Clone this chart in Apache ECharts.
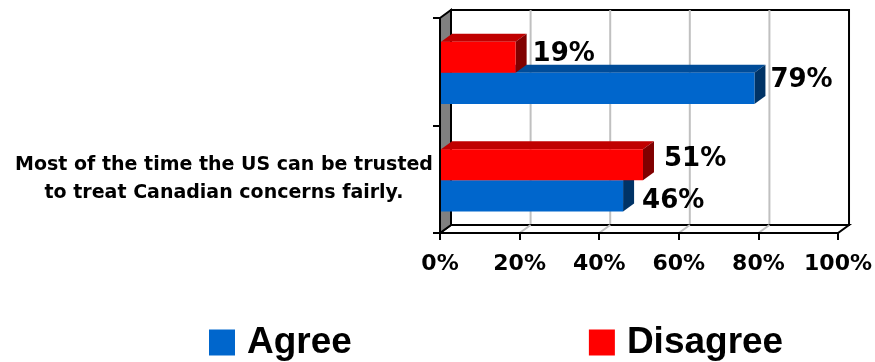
<!DOCTYPE html>
<html>
<head>
<meta charset="utf-8">
<script src="https://cdn.jsdelivr.net/npm/echarts/dist/echarts.min.js"></script>
<style>
  html, body { margin: 0; padding: 0; background: #ffffff; }
  #chart { width: 875px; height: 362px; }
</style>
</head>
<body>
<div id="chart"></div>
<script>
// Survey statement (bottom row) and an unlabelled comparison row (top)
const categories = [
  'Most of the time the US can be trusted\nto treat Canadian concerns fairly.',
  ''
];
const seriesNames = ['Agree', 'Disagree'];
const agreeValues = [46, 79];
const disagreeValues = [51, 19];
const tickValues = [0, 20, 40, 60, 80, 100];

// Depth of the pseudo-3D box and bars (pixels)
const DX = 11, DY = -8;

const palette = {
  Agree:    { front: '#0066CC', top: '#004C99', side: '#003366' },
  Disagree: { front: '#FF0000', top: '#C00000', side: '#800000' }
};

// Per-label nudges [dx, dy] so the value labels sit where the bars leave room
const labelNudge = {
  Agree:    [[8, 5], [5, -8]],
  Disagree: [[10, -5], [6, -3]]
};

function frameRenderer(params, api) {
  const cs = params.coordSys;
  const L = cs.x, T = cs.y, R = cs.x + cs.width, B = cs.y + cs.height;
  const inner = tickValues.slice(1, -1);
  const children = [];
  // back wall
  children.push({
    type: 'rect',
    shape: { x: L + DX, y: T + DY, width: R - L, height: B - T },
    style: { fill: '#ffffff', stroke: '#000000', lineWidth: 2 }
  });
  // gridlines on the back wall, placed by the value axis
  inner.forEach(function (v) {
    const x = api.coord([v, 0])[0];
    children.push({
      type: 'line',
      shape: { x1: x + DX, y1: T + DY, x2: x + DX, y2: B + DY },
      style: { stroke: '#C0C0C0', lineWidth: 2 }
    });
  });
  // floor with its receding gridlines
  children.push({
    type: 'polygon',
    shape: { points: [[L, B], [R, B], [R + DX, B + DY], [L + DX, B + DY]] },
    style: { fill: '#ffffff', stroke: '#000000', lineWidth: 2 }
  });
  inner.forEach(function (v) {
    const x = api.coord([v, 0])[0];
    children.push({
      type: 'line',
      shape: { x1: x, y1: B, x2: x + DX, y2: B + DY },
      style: { stroke: '#C0C0C0', lineWidth: 2 }
    });
  });
  // left wall
  children.push({
    type: 'polygon',
    shape: { points: [[L, T], [L + DX, T + DY], [L + DX, B + DY], [L, B]] },
    style: { fill: '#808080', stroke: '#000000', lineWidth: 2 }
  });
  return { type: 'group', children: children, silent: true };
}

function barRenderer(name, slot) {
  const col = palette[name];
  return function (params, api) {
    const v = api.value(0), c = api.value(1);
    const base = api.coord([0, c]);
    const end = api.coord([v, c]);
    const band = api.size([0, 1])[1];
    const h = band * 0.29;
    const mid = base[1] + band * 0.01;
    const y0 = slot === 0 ? mid : mid - h;
    const y1 = y0 + h;
    const x0 = base[0] + 1, x1 = end[0];
    const nudge = labelNudge[name][params.dataIndex];
    return {
      type: 'group',
      children: [
        { type: 'polygon',
          shape: { points: [[x0, y0], [x1, y0], [x1 + DX, y0 + DY], [x0 + DX, y0 + DY]] },
          style: { fill: col.top } },
        { type: 'polygon',
          shape: { points: [[x1, y0], [x1 + DX, y0 + DY], [x1 + DX, y1 + DY], [x1, y1]] },
          style: { fill: col.side } },
        { type: 'rect',
          shape: { x: x0, y: y0, width: x1 - x0, height: h },
          style: { fill: col.front } },
        { type: 'text',
          x: x1 + DX + nudge[0], y: (y0 + y1) / 2 + nudge[1],
          style: {
            text: v + '%', fill: '#000000',
            font: 'bold 26px "DejaVu Sans"',
            textAlign: 'left', textVerticalAlign: 'middle'
          } }
      ]
    };
  };
}

const chart = echarts.init(document.getElementById('chart'), null, { renderer: 'canvas' });

chart.setOption({
  animation: false,
  backgroundColor: '#ffffff',
  grid: { left: 440, top: 18, width: 400, height: 215, containLabel: false },
  legend: {
    data: seriesNames,
    left: 204, top: 319,
    icon: 'rect',
    itemWidth: 26, itemHeight: 26, itemGap: 237,
    textStyle: {
      fontFamily: '"Liberation Sans", Arial, sans-serif', fontWeight: 'bold',
      fontSize: 37, color: '#000000', padding: [0, 0, 0, 7]
    }
  },
  xAxis: {
    type: 'value', min: 0, max: 100, interval: 20, z: 5,
    axisLine: { show: true, lineStyle: { color: '#000000', width: 2 } },
    axisTick: { show: true, length: 7, lineStyle: { color: '#000000', width: 2 } },
    splitLine: { show: false },
    axisLabel: {
      formatter: '{value}%', margin: 20,
      fontFamily: '"DejaVu Sans"', fontWeight: 'bold', fontSize: 22, color: '#000000'
    }
  },
  yAxis: {
    type: 'category', data: categories, z: 5,
    axisLine: { show: true, lineStyle: { color: '#000000', width: 2 } },
    axisTick: { show: true, length: 7, lineStyle: { color: '#000000', width: 2 } },
    splitLine: { show: false },
    axisLabel: {
      align: 'center', margin: 216, lineHeight: 28,
      fontFamily: '"DejaVu Sans"', fontWeight: 'bold', fontSize: 19, color: '#000000'
    }
  },
  series: [
    {
      type: 'custom', name: 'frame', z: 1, silent: true,
      renderItem: frameRenderer,
      data: [[0, 0]]
    },
    {
      type: 'custom', name: 'Agree', z: 3,
      itemStyle: { color: palette.Agree.front },
      renderItem: barRenderer('Agree', 0),
      data: agreeValues.map(function (v, i) { return [v, i]; })
    },
    {
      type: 'custom', name: 'Disagree', z: 3,
      itemStyle: { color: palette.Disagree.front },
      renderItem: barRenderer('Disagree', 1),
      data: disagreeValues.map(function (v, i) { return [v, i]; })
    }
  ]
});
</script>
</body>
</html>
